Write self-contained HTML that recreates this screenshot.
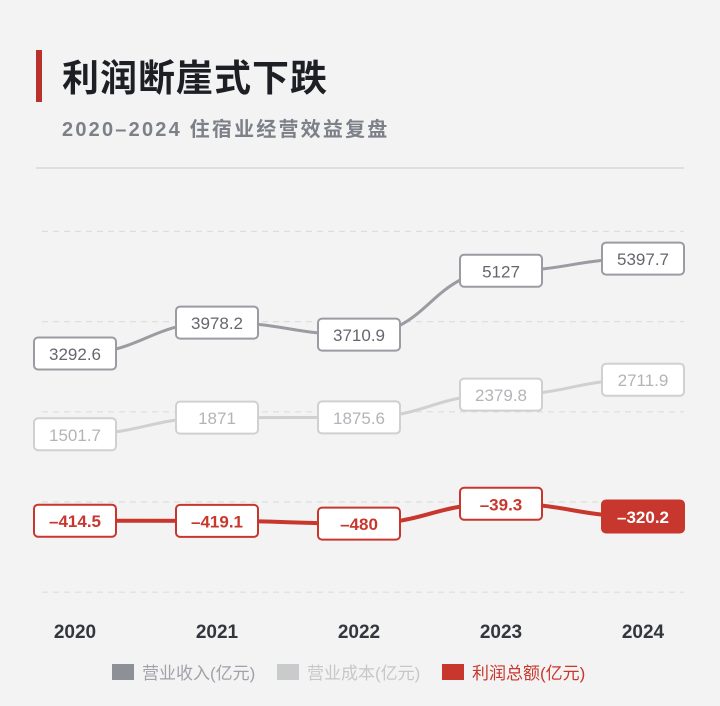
<!DOCTYPE html>
<html><head><meta charset="utf-8"><style>
body{margin:0;width:720px;height:701px;background:#f3f3f3;font-family:"Liberation Sans","Noto Sans CJK SC",sans-serif;overflow:hidden}
</style></head><body>
<svg width="720" height="701" viewBox="0 0 720 701" style="font-family:'Liberation Sans','Noto Sans CJK SC',sans-serif">
<rect x="0" y="0" width="720" height="701" fill="#f3f3f3"/>
<rect x="36" y="50" width="6" height="52" fill="#b8322b"/>
<text x="62" y="91" font-size="37" font-weight="bold" fill="#1d1f24" letter-spacing="1">利润断崖式下跌</text>
<text x="62" y="136" font-size="20" font-weight="bold" fill="#7d8088" letter-spacing="2.2">2020–2024 住宿业经营效益复盘</text>
<line x1="36" y1="168" x2="684" y2="168" stroke="#d8d8d8" stroke-width="1.5"/>
<g id="grid"></g>
<g id="lines"></g>
<g id="labels"></g>
<g id="xaxis"></g>
<g>
<g><rect x="112" y="664" width="22" height="16" fill="#8d9097"/><text x="142" y="679" font-size="17" fill="#a0a2a8">营业收入(亿元)</text></g>
<g><rect x="277" y="664" width="22" height="16" fill="#c9cacc"/><text x="307" y="679" font-size="17" fill="#c6c7ca">营业成本(亿元)</text></g>
<g><rect x="442" y="664" width="22" height="16" fill="#c8372d"/><text x="472" y="679" font-size="17" fill="#c8372d">利润总额(亿元)</text></g>
</g>
</svg>
<script>
const years=["2020","2021","2022","2023","2024"];
const revenue=[3292.6,3978.2,3710.9,5127,5397.7];
const cost=[1501.7,1871,1875.6,2379.8,2711.9];
const profit=[-414.5,-419.1,-480,-39.3,-320.2];
const gridValues=[6000,4000,2000,0,-2000];
const NS="http://www.w3.org/2000/svg";
function xs(i){return 75+i*142;}
function ys(v){return 502-v*0.0451;}
function mk(t,a,p){const e=document.createElementNS(NS,t);for(const k in a)e.setAttribute(k,a[k]);p.appendChild(e);return e;}
const grid=document.getElementById('grid');
gridValues.forEach(v=>{const l=mk('line',{x1:42,x2:684,y1:ys(v),y2:ys(v),stroke:'#dedede','stroke-width':1.2,'stroke-dasharray':'6 5'},grid);

});
const series=[{d:revenue,c:'#9a9ca1',t:'#65676d',w:3,n:'revenue'},{d:cost,c:'#cfd0d2',t:'#b3b4b8',w:3,n:'cost'},{d:profit,c:'#c8372d',t:'#c8372d',w:4,n:'profit'}];
const lg=document.getElementById('lines'),lb=document.getElementById('labels');
series.forEach(s=>{
 let d='M'+xs(0)+','+ys(s.d[0]);
 for(let i=1;i<s.d.length;i++){const x0=xs(i-1),x1=xs(i),m=(x0+x1)/2;d+=' C'+m+','+ys(s.d[i-1])+' '+m+','+ys(s.d[i])+' '+x1+','+ys(s.d[i]);}
 const p=mk('path',{d:d,fill:'none',stroke:s.c,'stroke-width':s.w},lg);
 
 
 s.d.forEach((v,i)=>{
  const last=s.n==='profit'&&i===s.d.length-1;
  const g=mk('g',{},lb);
  
  
  mk('rect',{x:xs(i)-41,y:ys(v)-16,width:82,height:32,rx:4,fill:last?'#c8372d':'#fff',stroke:s.c,'stroke-width':2},g);
  const t=mk('text',{x:xs(i),y:ys(v)+6.5,'text-anchor':'middle','font-size':17,fill:last?'#fff':s.t,'font-weight':s.n==='profit'?'bold':'normal'},g);
  t.textContent=v<0?'–'+Math.abs(v):String(v);
 });
});
const xa=document.getElementById('xaxis');
years.forEach((y,i)=>{const t=mk('text',{x:xs(i),y:638,'text-anchor':'middle','font-size':19,'font-weight':'bold',fill:'#33363c'},xa);t.textContent=y;

});
</script>
</body></html>
